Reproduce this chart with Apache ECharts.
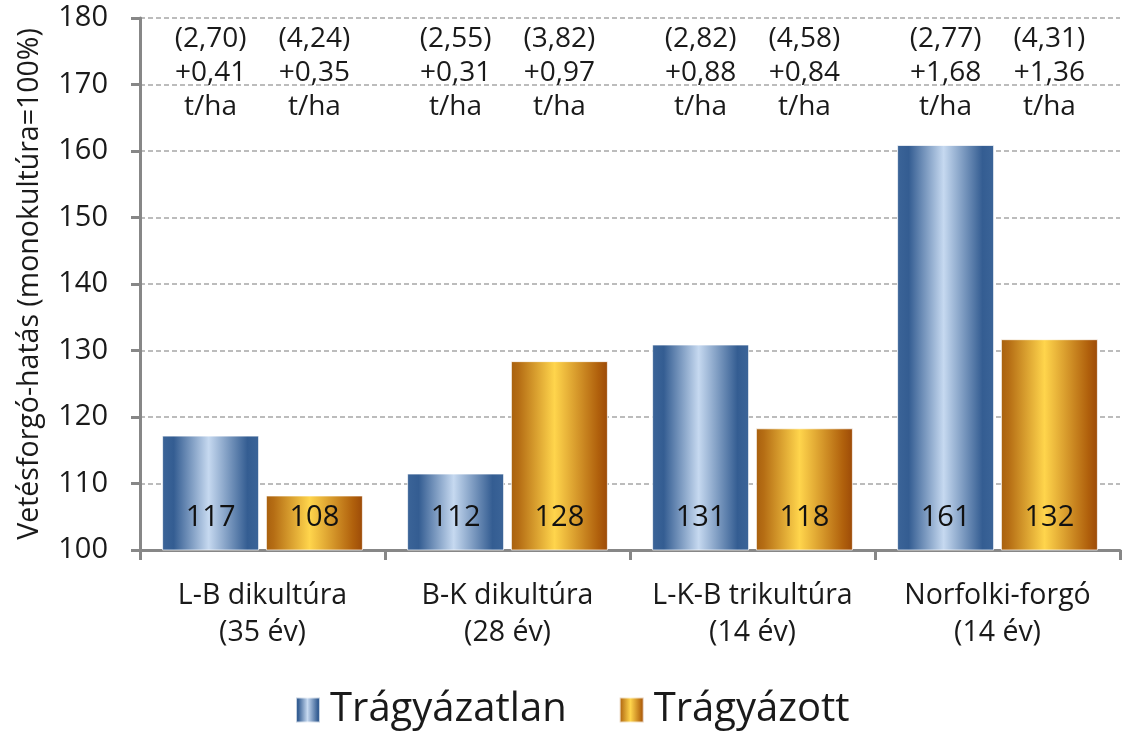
<!DOCTYPE html>
<html>
<head>
<meta charset="utf-8">
<script src="https://cdn.jsdelivr.net/npm/echarts@6/dist/echarts.min.js"></script>
<style>
  html, body { margin: 0; padding: 0; background: #fff; }
  #chart { width: 1126px; height: 735px; }
</style>
</head>
<body>
<div id="chart"></div>
<script>
// kategóriák (vetésforgók)
const categories = ["L-B dikultúra\n(35 év)", "B-K dikultúra\n(28 év)", "L-K-B trikultúra\n(14 év)", "Norfolki-forgó\n(14 év)"];
const seriesNames = ["Trágyázatlan", "Trágyázott"];
// vetésforgó-hatás, monokultúra = 100%
const unfertilized = [117.2, 111.5, 130.9, 160.9];
const fertilized = [108.2, 128.4, 118.3, 131.7];
// monokultúra termése (t/ha) és a többlet
const unfertBase = ["2,70", "2,55", "2,82", "2,77"];
const unfertGain = ["+0,41", "+0,31", "+0,88", "+1,68"];
const fertBase = ["4,24", "3,82", "4,58", "4,31"];
const fertGain = ["+0,35", "+0,97", "+0,84", "+1,36"];
const yMin = 100, yMax = 180, yStep = 10;

const FONT = "'Open Sans', sans-serif";
const TEXT = "#1a1a1a";

function grad(stops) {
  return new echarts.graphic.LinearGradient(0, 0, 1, 0, stops.map(s => ({ offset: s[0], color: s[1] })));
}
const blueFill = grad([[0, "#3b6498"], [0.12, "#345d92"], [0.48, "#c6d9f0"], [0.88, "#345d92"], [1, "#3b6498"]]);
const orangeFill = grad([[0, "#a8600e"], [0.08, "#b56d14"], [0.45, "#ffd54c"], [0.9, "#b0600c"], [1, "#9c4a08"]]);

function topNotes(base, gain) {
  return base.map((b, i) => ({
    coord: [categories[i], yMax],
    value: "(" + b + ")\n" + gain[i] + "\nt/ha"
  }));
}

function barSeries(name, data, fill, base, gain) {
  return {
    name: name,
    type: "bar",
    data: data,
    barWidth: 97,
    barGap: "7%",
    itemStyle: { color: fill, borderColor: "rgba(255,255,255,0.7)", borderWidth: 1 },
    label: {
      show: true,
      position: "insideBottom",
      distance: 18,
      fontFamily: FONT,
      fontSize: 29,
      color: "#111",
      formatter: p => Math.round(p.value)
    },
    markPoint: {
      symbol: "circle",
      symbolSize: 1,
      silent: true,
      itemStyle: { color: "rgba(0,0,0,0)" },
      label: {
        show: true,
        position: "bottom",
        distance: 4,
        fontFamily: FONT,
        fontSize: 28,
        lineHeight: 34,
        color: TEXT,
        formatter: p => p.data.value
      },
      data: topNotes(base, gain)
    }
  };
}

const chart = echarts.init(document.getElementById("chart"));
chart.setOption({
  animation: false,
  backgroundColor: "#fff",
  grid: { left: 140, right: 6, top: 18, bottom: 185, containLabel: false },
  legend: {
    bottom: 0,
    left: 290,
    icon: "rect",
    itemWidth: 24,
    itemHeight: 25,
    itemGap: 52,
    textStyle: { fontFamily: FONT, fontSize: 40, color: TEXT, padding: [0, 0, 0, 5] },
    data: seriesNames
  },
  xAxis: {
    type: "category",
    data: categories,
    axisLine: { lineStyle: { color: "#878787", width: 3 } },
    axisTick: { show: true, length: 10, lineStyle: { color: "#878787", width: 3 } },
    axisLabel: { interval: 0, fontFamily: FONT, fontSize: 28.5, lineHeight: 37, color: TEXT, margin: 27 }
  },
  yAxis: {
    type: "value",
    min: yMin,
    max: yMax,
    interval: yStep,
    name: "Vetésforgó-hatás (monokultúra=100%)",
    nameLocation: "middle",
    nameGap: 96,
    nameTextStyle: { fontFamily: FONT, fontSize: 28.5, color: TEXT },
    axisLine: { show: true, lineStyle: { color: "#878787", width: 3 } },
    axisTick: { show: true, length: 9, lineStyle: { color: "#878787", width: 3 } },
    axisLabel: { fontFamily: FONT, fontSize: 29, color: TEXT, margin: 32 },
    splitLine: { show: true, lineStyle: { color: "#a6a6a6", type: [5, 3], width: 1.5 } }
  },
  series: [
    barSeries(seriesNames[0], unfertilized, blueFill, unfertBase, unfertGain),
    barSeries(seriesNames[1], fertilized, orangeFill, fertBase, fertGain)
  ]
});
</script>
</body>
</html>
